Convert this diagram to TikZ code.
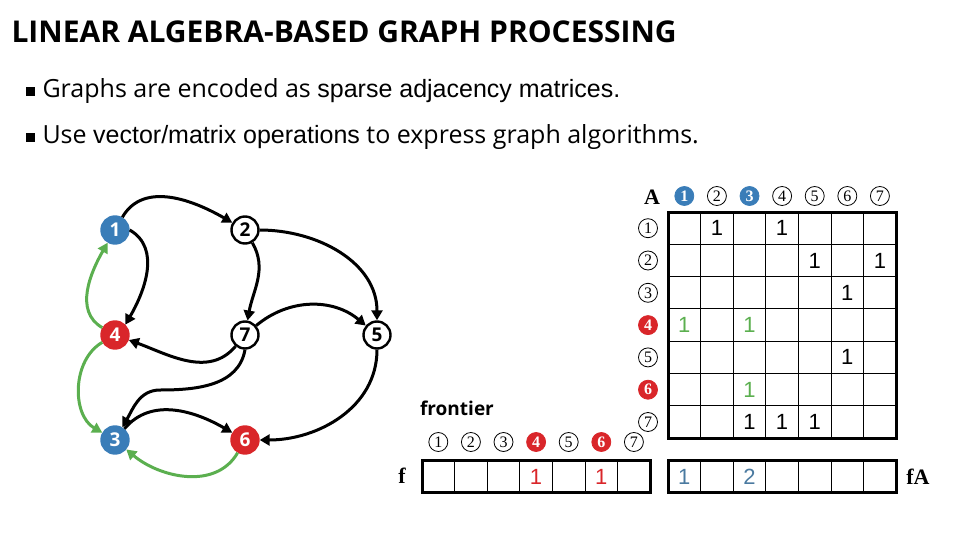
\documentclass[tikz,border=0pt]{standalone}
\usepackage{fontspec}
\setmainfont{Open Sans}
\newfontfamily\arialf{Liberation Sans}
\newfontfamily\serifb{Liberation Serif}
\usetikzlibrary{arrows.meta}
\definecolor{cblue}{HTML}{3A7DB8}
\definecolor{cred}{HTML}{D9262A}
\definecolor{cgreen}{HTML}{5BAF4F}
\definecolor{vblue}{HTML}{4A7AA0}
\newcommand{\bsq}{\rule[1pt]{9pt}{9pt}}
\begin{document}
\begin{tikzpicture}[x=1pt,y=-1pt,
  vtx/.style={circle,draw=black,line width=2.4pt,minimum size=27pt,inner sep=0pt,font=\bfseries\fontsize{19}{19}\selectfont},
  bv/.style={vtx,fill=cblue,draw=cblue,text=white},
  rv/.style={vtx,fill=cred,draw=cred,text=white},
  ed/.style={line width=3pt,-{Triangle[length=10pt,width=11pt]}},
  ged/.style={ed,cgreen},
  lab/.style={circle,draw=black,line width=0.8pt,minimum size=19pt,inner sep=0pt,font=\serifb\fontsize{16}{16}\selectfont},
  blab/.style={lab,fill=cblue,draw=cblue,text=white,font=\serifb\bfseries\fontsize{16}{16}\selectfont},
  rlab/.style={lab,fill=cred,draw=cred,text=white,font=\serifb\bfseries\fontsize{16}{16}\selectfont},
  val/.style={font=\arialf\fontsize{22}{22}\selectfont},
  grid/.style={line width=1pt},
  frame/.style={line width=3pt}]
\useasboundingbox (0,0) rectangle (960,540);
\node[anchor=west,font=\bfseries\fontsize{30}{30}\selectfont] (title) at (8,32) {LINEAR ALGEBRA-BASED GRAPH PROCESSING};
\node[anchor=west,font=\fontsize{25}{25}\selectfont] (b1) at (22,91) {\bsq\hspace{8pt}Graphs are encoded as {\arialf sparse adjacency matrices.}};
\node[anchor=west,font=\fontsize{25}{25}\selectfont] (b2) at (22,137) {\bsq\hspace{8pt}Use {\arialf vector/matrix operations} to express graph algorithms.};
% graph
\node[bv] (n1) at (115,230) {1};
\node[vtx] (n2) at (245,230) {2};
\node[rv] (n4) at (115,335) {4};
\node[vtx] (n7) at (245,335) {7};
\node[vtx] (n5) at (377,335) {5};
\node[bv] (n3) at (115,440) {3};
\node[rv] (n6) at (245,440) {6};
\draw[ed] (n1) to[out=60,in=150] (n2);
\draw[ed] (n1.east) to[out=-30,in=60] (n4.north east);
\draw[ged] (n4) to[out=150,in=-120] (n1);
\draw[ged] (n4) to[out=-150,in=150] (n3);
\draw[ged] (n6) to[out=-120,in=-40] (n3);
\draw[ed] (n3) to[out=50,in=150] (n6);
\draw[ed] (n2) to[out=-60,in=80] (n7);
\draw[ed] (n2) to[out=0,in=90] (n5);
\draw[ed] (n7) to[out=40,in=140] (n5);
\draw[ed] (n7) to[out=-130,in=-20] (n4);
\draw[ed] (n7.south) to[out=-100,in=0] (160,390) to[out=180,in=60] (n3);
\draw[ed] (n5) to[out=-90,in=0] (n6);
% matrix
\def\cw{32.6}
\foreach \i in {0,...,7}{
  \draw[grid] (668+\i*\cw,212) -- (668+\i*\cw,438);
  \draw[grid] (668,212+\i*32.3) -- (896,212+\i*32.3);
}
\draw[frame] (668,212) rectangle (896,438);
\node[font=\serifb\bfseries\fontsize{22}{22}\selectfont] (A) at (652,197) {A};
\foreach \j/\s in {1/blab,2/lab,3/blab,4/lab,5/lab,6/lab,7/lab}{
  \node[\s] (c\j) at (668+\j*\cw-16.3,196) {\j};
}
\foreach \j/\s in {1/lab,2/lab,3/lab,4/rlab,5/lab,6/rlab,7/lab}{
  \node[\s] (r\j) at (648,212+\j*32.3-16.1) {\j};
}
\foreach \r/\c/\col in {1/2/black,1/4/black,2/5/black,2/7/black,3/6/black,4/1/cgreen,4/3/cgreen,5/6/black,6/3/cgreen,7/3/black,7/4/black,7/5/black}{
  \node[val,text=\col] at (668+\c*\cw-16.3,212+\r*32.3-16.1) {1};
}
% fA vector
\foreach \i in {0,...,7}{\draw[grid] (668+\i*\cw,460) -- (668+\i*\cw,492);}
\draw[frame] (668,460) rectangle (896,492);
\node[val,text=vblue] (fa1) at (668+0.5*\cw,477) {1};
\node[val,text=vblue] (fa3) at (668+2.5*\cw,477) {2};
\node[font=\serifb\bfseries\fontsize{22}{22}\selectfont] (fA) at (918,477) {fA};
% f vector
\foreach \i in {0,...,7}{\draw[grid] (422+\i*\cw,460) -- (422+\i*\cw,492);}
\draw[frame] (422,460) rectangle (650,492);
\node[val,text=cred] (f4) at (422+3.5*\cw,477) {1};
\node[val,text=cred] (f6) at (422+5.5*\cw,477) {1};
\node[font=\serifb\bfseries\fontsize{22}{22}\selectfont] (f) at (402,476) {f};
\foreach \j/\s in {1/lab,2/lab,3/lab,4/rlab,5/lab,6/rlab,7/lab}{
  \node[\s] (fc\j) at (422+\j*\cw-16.3,442) {\j};
}
\node[font=\bfseries\fontsize{19}{19}\selectfont] (front) at (457,408) {frontier};
\end{tikzpicture}
\end{document}
